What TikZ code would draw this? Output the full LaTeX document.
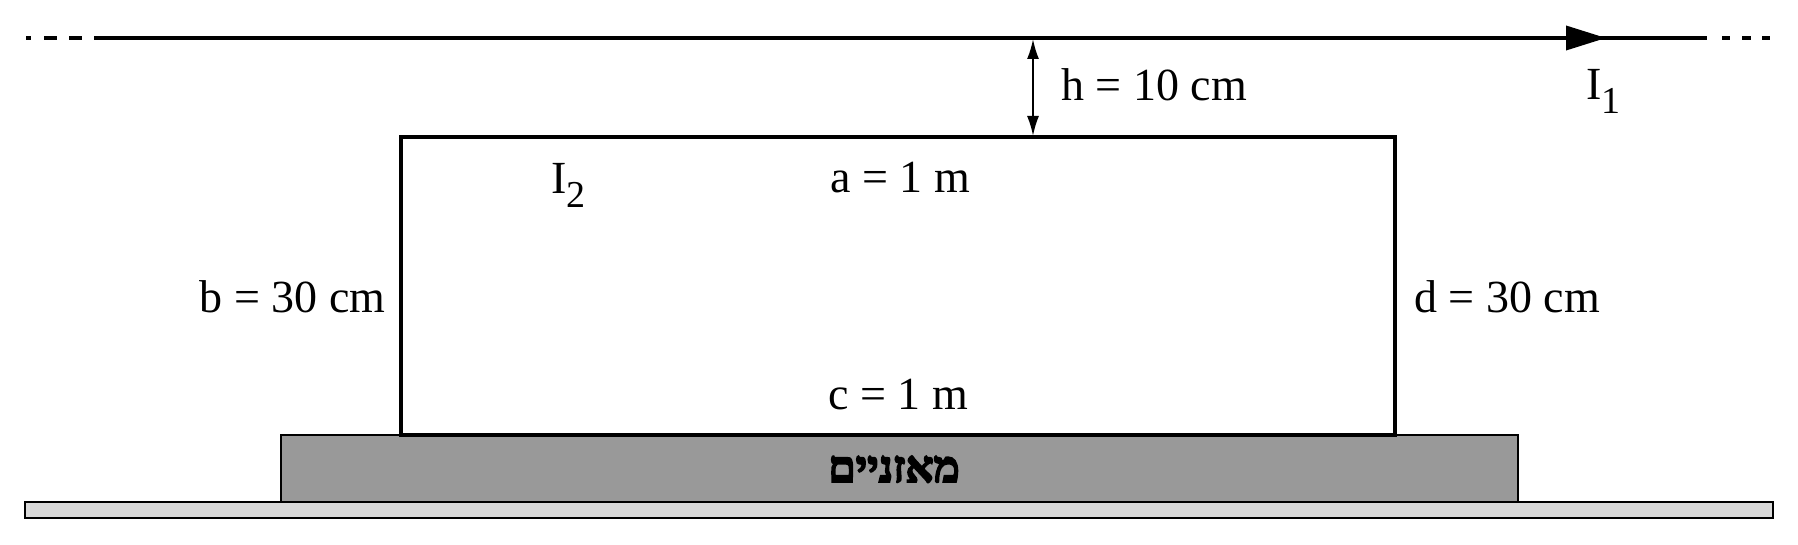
\documentclass[tikz,border=0pt]{standalone}
\usepackage{fontspec}
\setmainfont{Liberation Serif}
\newfontfamily\hebfont[Script=Hebrew,BoldFeatures={FakeBold=4}]{Liberation Serif}
\TeXXeTstate=1
\usetikzlibrary{arrows.meta}
\tikzset{
  wire/.style={line width=1.8pt},
  loopline/.style={line width=1.7pt},
  slab/.style={line width=1.2pt, draw=black},
  lbl/.style={font=\fontsize{23}{27}\selectfont, inner sep=0pt, anchor=base},
}
\newcommand{\subidx}[1]{\raisebox{-0.3em}{\fontsize{19}{22}\selectfont #1}}
\begin{document}
\begin{tikzpicture}[x=0.5pt,y=-0.5pt]
\useasboundingbox (0,0) rectangle (1798,545);
% floor and scale
\draw[slab, fill={rgb,255:red,217;green,217;blue,217}] (25,502) rectangle (1773,518);
\draw[slab, fill={rgb,255:red,153;green,153;blue,153}] (281,435) rectangle (1518,502);
% loop
\draw[loopline] (401,137) rectangle (1395,435);
% wire
\coordinate (wl) at (94,38);
\coordinate (wr) at (1707,38);
\draw[wire] (wl) -- (wr);
\draw[wire] (26,38) -- (31,38) (44,38) -- (57,38) (69,38) -- (82,38);
\draw[wire] (1722,38) -- (1730,38) (1742,38) -- (1751,38) (1762,38) -- (1770,38);
\coordinate (ab) at (1560,38);
\coordinate (at) at (1606,38);
\draw[wire, -{Triangle[length=20pt,width=12pt]}] (ab) -- (at);
% h arrow
\coordinate (ht) at (1033,39);
\coordinate (hb) at (1033,136);
\draw[line width=1pt, {Latex[length=10pt,width=6pt]}-{Latex[length=10pt,width=6pt]}] (ht) -- (hb);
% labels
\node[lbl] (h) at (1154,101) {h = 10 cm};
\node[lbl, anchor=base west] (i1) at (1586,100) {I\subidx{1}};
\node[lbl, anchor=base west] (i2) at (551,194) {I\subidx{2}};
\node[lbl] (a) at (900,193) {a = 1 m};
\node[lbl, anchor=base east] (b) at (386,313) {b = 30 cm};
\node[lbl, anchor=base west] (d) at (1414,313) {d = 30 cm};
\node[lbl] (c) at (898,409) {c = 1 m};
\node[inner sep=0pt, anchor=base, font=\hebfont\bfseries\fontsize{22}{26}\selectfont] (s) at (894,482) {\beginR מאזניים\endR};
\end{tikzpicture}
\end{document}
